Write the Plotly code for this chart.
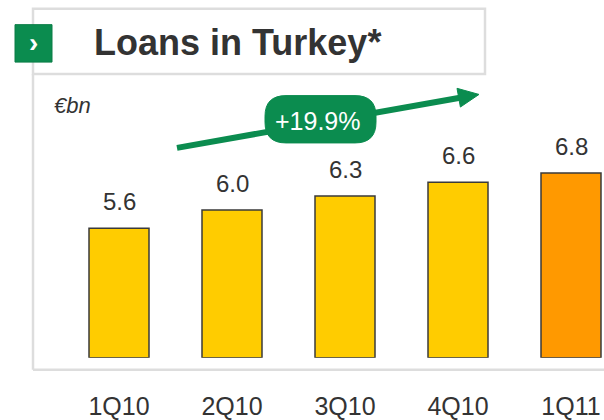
import plotly.graph_objects as go

# Loans in Turkey, € billions, by quarter
quarters = ["1Q10", "2Q10", "3Q10", "4Q10", "1Q11"]
loans_bn = [5.6, 6.0, 6.3, 6.6, 6.8]
bar_colors = ["#FFCC00", "#FFCC00", "#FFCC00", "#FFCC00", "#FF9900"]
growth_label = "+19.9%"
title_text = "Loans in Turkey*"
unit_text = "€bn"

W, H = 604, 420
AXIS_BASE = 2.8          # value where the bars start
GREEN = "#0B8C4F"
GREY_LINE = "#DDDDDD"
TEXT = "#333333"
FONT = "Arial, Liberation Sans, sans-serif"


def px(x):
    return x / W


def py(y):
    return 1 - y / H


fig = go.Figure()

fig.add_trace(go.Bar(
    x=quarters,
    y=[v - AXIS_BASE for v in loans_bn],
    base=[AXIS_BASE] * len(loans_bn),
    width=0.531,
    marker=dict(color=bar_colors, line=dict(color="#3a3a3a", width=1.5)),
    hoverinfo="skip",
))

# value labels above each bar
annotations = []
for q, v in zip(quarters, loans_bn):
    annotations.append(dict(
        x=q, y=v, xref="x", yref="y", text=f"{v:.1f}", showarrow=False,
        yanchor="bottom", yshift=11,
        font=dict(family=FONT, size=24, color=TEXT),
    ))

# title, unit and growth label
annotations += [
    dict(x=px(92), y=py(43), xref="paper", yref="paper", text=f"<b>{title_text}</b>",
         showarrow=False, xanchor="left", yanchor="middle",
         font=dict(family=FONT, size=36, color=TEXT)),
    dict(x=px(33.5), y=py(43), xref="paper", yref="paper", text="<b>›</b>",
         showarrow=False, xanchor="center", yanchor="middle",
         font=dict(family=FONT, size=28, color="white")),
    dict(x=px(52), y=py(107), xref="paper", yref="paper", text=f"<i>{unit_text}</i>",
         showarrow=False, xanchor="left", yanchor="middle",
         font=dict(family=FONT, size=22, color=TEXT)),
    dict(x=px(318), y=py(123), xref="paper", yref="paper", text=growth_label,
         showarrow=False, xanchor="center", yanchor="middle",
         font=dict(family=FONT, size=25, color="white")),
]


def rounded_rect(x0, y0, x1, y1, r):
    pts = [
        f"M {px(x0 + r)} {py(y0)}",
        f"L {px(x1 - r)} {py(y0)}",
        f"Q {px(x1)} {py(y0)} {px(x1)} {py(y0 + r)}",
        f"L {px(x1)} {py(y1 - r)}",
        f"Q {px(x1)} {py(y1)} {px(x1 - r)} {py(y1)}",
        f"L {px(x0 + r)} {py(y1)}",
        f"Q {px(x0)} {py(y1)} {px(x0)} {py(y1 - r)}",
        f"L {px(x0)} {py(y0 + r)}",
        f"Q {px(x0)} {py(y0)} {px(x0 + r)} {py(y0)}",
        "Z",
    ]
    return " ".join(pts)


shapes = [
    # chart frame (left and bottom edges)
    dict(type="line", xref="paper", yref="paper", x0=px(33), y0=py(75), x1=px(33), y1=py(375),
         line=dict(color=GREY_LINE, width=2.5)),
    dict(type="line", xref="paper", yref="paper", x0=px(33), y0=py(375), x1=px(620), y1=py(375),
         line=dict(color=GREY_LINE, width=2.5)),
    # title box
    dict(type="rect", xref="paper", yref="paper", x0=px(33), y0=py(9), x1=px(485), y1=py(75),
         line=dict(color=GREY_LINE, width=2.5), fillcolor="white"),
    # green marker square
    dict(type="rect", xref="paper", yref="paper", x0=px(15), y0=py(25), x1=px(52), y1=py(63),
         line=dict(color="#0A7D46", width=1), fillcolor=GREEN),
    # growth arrow shaft
    dict(type="line", xref="paper", yref="paper", x0=px(177), y0=py(150), x1=px(460), y1=py(99.2),
         line=dict(color=GREEN, width=6)),
    # arrow head
    dict(type="path", xref="paper", yref="paper",
         path=f"M {px(479)} {py(95.8)} L {px(460.4)} {py(108.6)} L {px(457.0)} {py(89.6)} Z",
         line=dict(color=GREEN, width=1), fillcolor=GREEN),
    # growth pill
    dict(type="path", xref="paper", yref="paper", path=rounded_rect(265, 97, 376, 145, 21),
         line=dict(color=GREEN, width=1), fillcolor=GREEN),
]

fig.update_layout(
    width=W, height=H,
    margin=dict(l=0, r=0, t=0, b=0),
    paper_bgcolor="white", plot_bgcolor="rgba(0,0,0,0)",
    showlegend=False,
    xaxis=dict(
        domain=[px(62.5), 1], range=[-0.5, -0.5 + (W - 62.5) / 113],
        showgrid=False, zeroline=False, showline=False,
        ticks="outside", ticklen=26, tickcolor="rgba(0,0,0,0)",
        tickfont=dict(family=FONT, size=25, color=TEXT),
    ),
    yaxis=dict(
        domain=[py(363), py(60)], range=[AXIS_BASE, AXIS_BASE + 303 / 46.9],
        visible=False,
    ),
    annotations=annotations,
    shapes=shapes,
)

fig.write_html("out.html")
